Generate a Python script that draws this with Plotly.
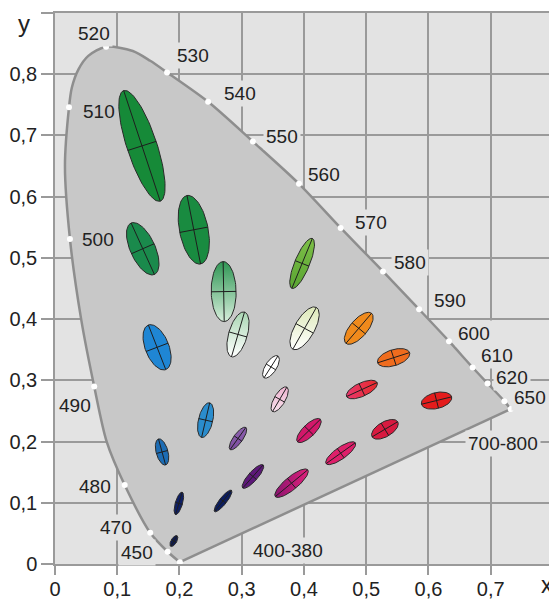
import numpy as np
import plotly.graph_objects as go

# ---- spectral locus, ordered from the 380 nm end round to 700-800 nm
locus_x = [0.2006, 0.181, 0.153, 0.112, 0.083, 0.063, 0.042, 0.024, 0.016, 0.0225, 0.027, 0.0377, 0.0535, 0.082,
           0.125, 0.153, 0.180, 0.246, 0.318, 0.392, 0.459, 0.527, 0.585, 0.633, 0.671, 0.695, 0.722, 0.732]
locus_y = [0.003, 0.020, 0.051, 0.129, 0.200, 0.290, 0.400, 0.531, 0.650, 0.746, 0.778, 0.808, 0.830, 0.845,
           0.838, 0.822, 0.803, 0.755, 0.690, 0.621, 0.549, 0.478, 0.416, 0.364, 0.321, 0.295, 0.266, 0.253]

# ---- marked wavelengths (white dots)
dot_x = [0.2006, 0.181, 0.153, 0.112, 0.063, 0.024, 0.0225, 0.082, 0.180, 0.246, 0.318, 0.392, 0.459, 0.527,
         0.585, 0.633, 0.671, 0.695, 0.722, 0.732]
dot_y = [0.003, 0.020, 0.051, 0.129, 0.290, 0.531, 0.746, 0.845, 0.803, 0.755, 0.690, 0.621, 0.549, 0.478,
         0.416, 0.364, 0.321, 0.295, 0.266, 0.253]

# ---- wavelength labels
wl_text = ["520", "530", "540", "550", "560", "570", "580", "590", "600", "610", "620", "650", "700-800",
           "400-380", "510", "500", "490", "480", "470", "450"]
wl_x = [0.0626, 0.2215, 0.297, 0.3644, 0.4318, 0.507, 0.570, 0.634, 0.673, 0.7096, 0.7337, 0.7626, 0.719,
        0.374, 0.0706, 0.069, 0.032, 0.064, 0.098, 0.1316]
wl_y = [0.867, 0.830, 0.768, 0.699, 0.637, 0.558, 0.492, 0.430, 0.3765, 0.3407, 0.3048, 0.2722, 0.197,
        0.0228, 0.740, 0.530, 0.259, 0.127, 0.060, 0.018]
wl_inside = ["510", "500"]

# ---- MacAdam ellipses (x10): centre, semi-axes, angle (deg)
ell_x = [0.191, 0.199, 0.270, 0.1397, 0.141, 0.223, 0.271, 0.164, 0.294, 0.397, 0.172, 0.242, 0.347,
         0.401, 0.488, 0.544, 0.493, 0.530, 0.613, 0.361, 0.408, 0.459, 0.294, 0.318, 0.380]
ell_y = [0.0375, 0.099, 0.103, 0.683, 0.515, 0.546, 0.445, 0.354, 0.375, 0.491, 0.183, 0.235, 0.322,
         0.385, 0.385, 0.337, 0.285, 0.220, 0.267, 0.269, 0.218, 0.181, 0.205, 0.143, 0.132]
ell_a = [0.0100, 0.019, 0.022, 0.095, 0.046, 0.057, 0.049, 0.039, 0.038, 0.044, 0.022, 0.029, 0.021,
         0.039, 0.032, 0.027, 0.027, 0.024, 0.025, 0.023, 0.026, 0.029, 0.022, 0.025, 0.034]
ell_b = [0.0045, 0.0058, 0.0058, 0.024, 0.020, 0.023, 0.020, 0.019, 0.015, 0.012, 0.0095, 0.0115, 0.009,
         0.016, 0.014, 0.013, 0.011, 0.012, 0.013, 0.009, 0.010, 0.0095, 0.0075, 0.0075, 0.0105]
ell_ang = [60, 74, 52, 108, 114, 101, 91, 111, 74, 68, 105, 77, 58,
           61, 50, 18, 25, 31, 14, 60, 45, 36, 55, 49, 40]
ell_c0 = ["#0d1b52", "#0e1f66", "#0c1d5e", "#168a38", "#1a8a4c", "#198b40", "#d6eedb", "#1f86d4", "#ffffff",
          "#5aa532", "#1c6cb4", "#2a8ccc", "#ffffff", "#ffffff", "#f08a1c", "#ef6c1e", "#e8386e", "#d81a40",
          "#e41c1c", "#f8e0ec", "#d2186a", "#de1f6a", "#7a4a9e", "#5c1878", "#8a1470"]
ell_c1 = ["#0d1b52", "#0e1f66", "#0c1d5e", "#168a38", "#1a8a4c", "#198b40", "#2f9654", "#1f86d4", "#a9d6b3",
          "#7dbf48", "#1c6cb4", "#2a8ccc", "#ffffff", "#dde9b8", "#f08a1c", "#ef6c1e", "#e82a2a", "#d81a40",
          "#e41c1c", "#eeb4d0", "#d2186a", "#de1f6a", "#8e62b0", "#6e2290", "#e0207a"]
ell_grad = ["none", "none", "none", "none", "none", "none", "vertical", "none", "vertical", "vertical",
            "none", "none", "none", "vertical", "none", "none", "horizontal", "none", "none", "vertical",
            "none", "none", "vertical", "none", "horizontal"]

# ---- axes
xt = [0, 0.1, 0.2, 0.3, 0.4, 0.5, 0.6, 0.7, 0.8]
xl = ["0", "0,1", "0,2", "0,3", "0,4", "0,5", "0,6", "0,7", ""]
yt = [0, 0.1, 0.2, 0.3, 0.4, 0.5, 0.6, 0.7, 0.8, 0.9]
yl = ["0", "0,1", "0,2", "0,3", "0,4", "0,5", "0,6", "0,7", "0,8", ""]

FONT = "Liberation Sans, Arial, sans-serif"
PLOT_BG = "#e3e3e3"

fig = go.Figure()

# locus fill + curved edge
fig.add_trace(go.Scatter(x=locus_x, y=locus_y, mode="lines", line=dict(shape="spline", smoothing=0.8,
                         color="#8e8e8e", width=2.5), fill="toself", fillcolor="#c8c8c8", hoverinfo="skip"))
# purple line
fig.add_trace(go.Scatter(x=[locus_x[-1], locus_x[0]], y=[locus_y[-1], locus_y[0]], mode="lines",
                         line=dict(color="#8e8e8e", width=2.5), hoverinfo="skip"))
fig.add_trace(go.Scatter(x=dot_x, y=dot_y, mode="markers", marker=dict(color="white", size=6),
                         hoverinfo="skip"))

t = np.linspace(0, 2 * np.pi, 90)
for i in range(len(ell_x)):
    th = np.radians(ell_ang[i])
    a, b = ell_a[i], ell_b[i]
    ex = ell_x[i] + a * np.cos(th) * np.cos(t) - b * np.sin(th) * np.sin(t)
    ey = ell_y[i] + a * np.sin(th) * np.cos(t) + b * np.cos(th) * np.sin(t)
    kw = {}
    if ell_grad[i] != "none":
        kw["fillgradient"] = dict(type=ell_grad[i], colorscale=[[0, ell_c0[i]], [1, ell_c1[i]]])
    fig.add_trace(go.Scatter(x=ex, y=ey, mode="lines", fill="toself", fillcolor=ell_c0[i],
                             line=dict(color="#2a2a2a", width=1), hoverinfo="skip", **kw))
    cx, cy = ell_x[i], ell_y[i]
    fig.add_trace(go.Scatter(
        x=[cx - a * np.cos(th), cx + a * np.cos(th), None, cx + b * np.sin(th), cx - b * np.sin(th)],
        y=[cy - a * np.sin(th), cy + a * np.sin(th), None, cy - b * np.cos(th), cy + b * np.cos(th)],
        mode="lines", line=dict(color="#1e1e1e", width=1), hoverinfo="skip"))

for s, x, y in zip(wl_text, wl_x, wl_y):
    fig.add_annotation(x=x, y=y, text=s, showarrow=False,
                       bgcolor="rgba(0,0,0,0)" if s in wl_inside else PLOT_BG, borderpad=2,
                       font=dict(size=19, color="#222222", family=FONT))

# axis names placed where the reference shows them
fig.add_annotation(x=0.8, y=0, xref="x", yref="y", text="x", showarrow=False, xanchor="center",
                   yanchor="middle", yshift=-21, xshift=-6, font=dict(size=23, color="#222222", family=FONT))
fig.add_annotation(x=0, y=0.9, xref="x", yref="y", text="y", showarrow=False, xanchor="right",
                   yanchor="middle", xshift=-23, yshift=-10, font=dict(size=24, color="#222222", family=FONT))

axcommon = dict(showgrid=True, gridcolor="#9a9a9a", gridwidth=1.5, zeroline=False, showline=True,
                linecolor="#9a9a9a", linewidth=1.5, mirror=True, ticks="outside", tickcolor="#9a9a9a",
                tickwidth=1.5, tickmode="array", fixedrange=True, automargin=False,
                tickfont=dict(size=20, color="#222222", family=FONT))
fig.update_xaxes(range=[0, 0.8001], tickvals=xt, ticktext=xl, ticklen=9, ticklabelstandoff=-3, **axcommon)
fig.update_yaxes(range=[0, 0.9001], tickvals=yt, ticktext=yl, ticklen=12, **axcommon)

# page body adds an 8px offset, so the figure is 8px smaller with the plot area at the reference's place
fig.update_layout(width=549, height=592, margin=dict(l=47, r=4, t=5, b=36, autoexpand=False),
                  plot_bgcolor=PLOT_BG, paper_bgcolor="white", showlegend=False)

fig.write_html("out.html")
